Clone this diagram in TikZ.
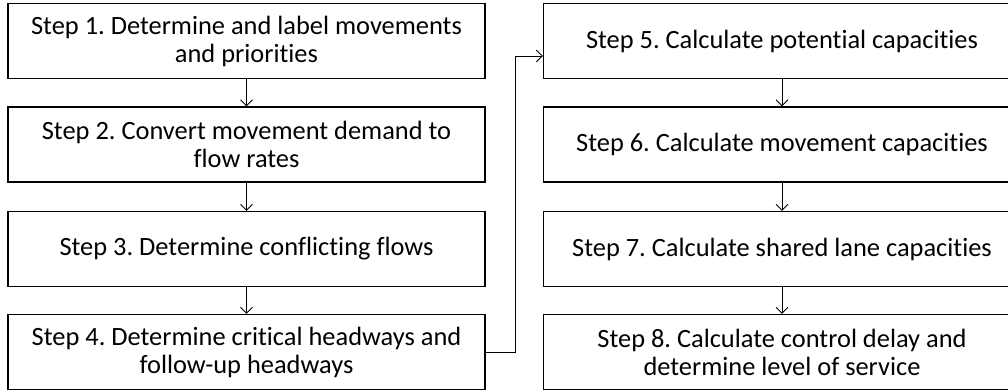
\documentclass[tikz,border=0pt]{standalone}
\usepackage{fontspec}
\setmainfont[Ligatures=NoCommon]{Carlito}
\usepackage{tikz}
\usetikzlibrary{calc, arrows.meta}
\frenchspacing
\tikzset{myStepBox/.style={draw=black, line width=1.2pt, rectangle, minimum width=477pt, minimum height=75pt, align=center, inner sep=0pt, font=\fontsize{26.4}{28}\selectfont}}
\tikzset{myFlowLine/.style={line width=0.9pt, color=black, -{Straight Barb[length=6pt, width=12pt]}}}
\newcommand{\colL}{246.5}
\newcommand{\colR}{782}

\begin{document}
\begin{tikzpicture}[x=1pt, y=-1pt]
		\useasboundingbox (0,0) rectangle (1008,389);
		%left column
		\node[myStepBox] (s1) at (\colL,41) {Step 1. Determine and label movements\\and priorities};
		\node[myStepBox] (s2) at (\colL,144.5) {Step 2. Convert movement demand to\\flow rates};
		\node[myStepBox] (s3) at (\colL,249) {Step 3. Determine conflicting flows};
		\node[myStepBox] (s4) at (\colL,352) {Step 4. Determine critical headways and\\follow-up headways};
		%right column
		\node[myStepBox] (s5) at (\colR,41) {Step 5. Calculate potential capacities};
		\node[myStepBox] (s6) at (\colR,144.5) {Step 6. Calculate movement capacities};
		\node[myStepBox] (s7) at (\colR,249) {Step 7. Calculate shared lane capacities};
		\node[myStepBox] (s8) at (\colR,352) {Step 8. Calculate control delay and\\determine level of service};
		
		\draw[myFlowLine] (s1) -- (s2);
		\draw[myFlowLine] (s2) -- (s3);
		\draw[myFlowLine] (s3) -- (s4);
		\draw[myFlowLine] (s4.east) -- ++(30,0) |- ([yshift=-15pt]s5.west);
		\draw[myFlowLine] (s5) -- (s6);
		\draw[myFlowLine] (s6) -- (s7);
		\draw[myFlowLine] (s7) -- (s8);
	\end{tikzpicture}
\end{document}
